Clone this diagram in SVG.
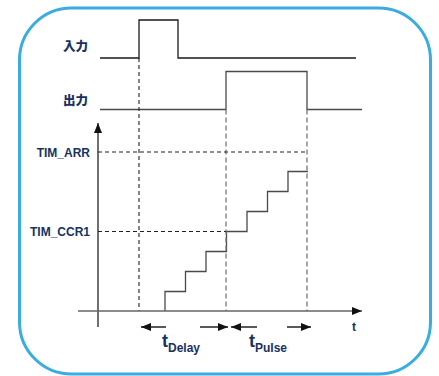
<svg xmlns="http://www.w3.org/2000/svg" width="439" height="376" viewBox="0 0 439 376">
<style>
.lbl{font-family:"Liberation Sans","Noto Sans CJK SC",Arial,sans-serif;font-weight:bold;fill:#17325F}
.cjk{font-family:"Noto Sans CJK JP","Noto Sans CJK SC",sans-serif;font-weight:900;fill:#17325F}
.sig{fill:none;stroke:#1a1a1a;stroke-width:1.3}
.sig2{fill:none;stroke:#4a4a4a;stroke-width:1.3}
.dash{fill:none;stroke:#222;stroke-width:1.1;stroke-dasharray:4,3}
.gdash{fill:none;stroke:#777;stroke-width:1.3;stroke-dasharray:5,3}
.ax{fill:none;stroke:#222;stroke-width:1.3}
.arr{fill:none;stroke:#222;stroke-width:1.5}
</style>
<defs>
<marker id="ah" viewBox="0 0 10 8" refX="10" refY="4" markerWidth="10" markerHeight="8" markerUnits="userSpaceOnUse" orient="auto">
<path d="M0,0 L10,4 L0,8 Z" fill="#111"/>
</marker>
</defs>
<rect x="19.5" y="8" width="411" height="366" rx="52" ry="52" fill="#fff" stroke="#3AACE0" stroke-width="3"/>
<g id="labels">
<text class="cjk" x="63" y="50.5" font-size="12.5">入力</text>
<text class="cjk" x="63" y="104.5" font-size="12.5">出力</text>
<text class="lbl" x="90" y="157" font-size="12" text-anchor="end">TIM_ARR</text>
<text class="lbl" x="90" y="236" font-size="12" text-anchor="end">TIM_CCR1</text>
<text class="lbl" x="352" y="331" font-size="12">t</text>
<text class="lbl" x="162" y="347" font-size="18">t<tspan font-size="12" dy="5">Delay</tspan></text>
<text class="lbl" x="249" y="347" font-size="18">t<tspan font-size="12" dy="5">Pulse</tspan></text>
</g>
<g id="input-signal">
<path class="sig" d="M100,58 H139 V20 H178 V58 H356"/>
</g>
<g id="output-signal">
<path class="sig2" d="M100,109.5 H226 V71.5 H307 V109.5 H362"/>
</g>
<g id="counter">
<path class="sig2" d="M165,311 V291.5 H185.5 V271.5 H206 V251.5 H226.5 V231.5 H247 V211.5 H267.5 V191.5 H288 V171.5 H308"/>
</g>
<g id="connectors">
<path class="dash" d="M139,58 V311"/>
<path class="gdash" d="M226,109.5 V311"/>
<path class="gdash" d="M307,109.5 V311"/>
<path class="dash" d="M98,152 H307"/>
<path class="dash" d="M98,231.5 H226"/>
<path class="ax" d="M98,327 V123" marker-end="url(#ah)"/>
<path d="M78,311 H362" fill="none" stroke="#666" stroke-width="1.3" marker-end="url(#ah)"/>
<path class="arr" d="M166,327 H141" marker-end="url(#ah)"/>
<path class="arr" d="M200,327 H228" marker-end="url(#ah)"/>
<path class="arr" d="M257,327 H231" marker-end="url(#ah)"/>
<path class="arr" d="M287,327 H311" marker-end="url(#ah)"/>
</g>
</svg>
